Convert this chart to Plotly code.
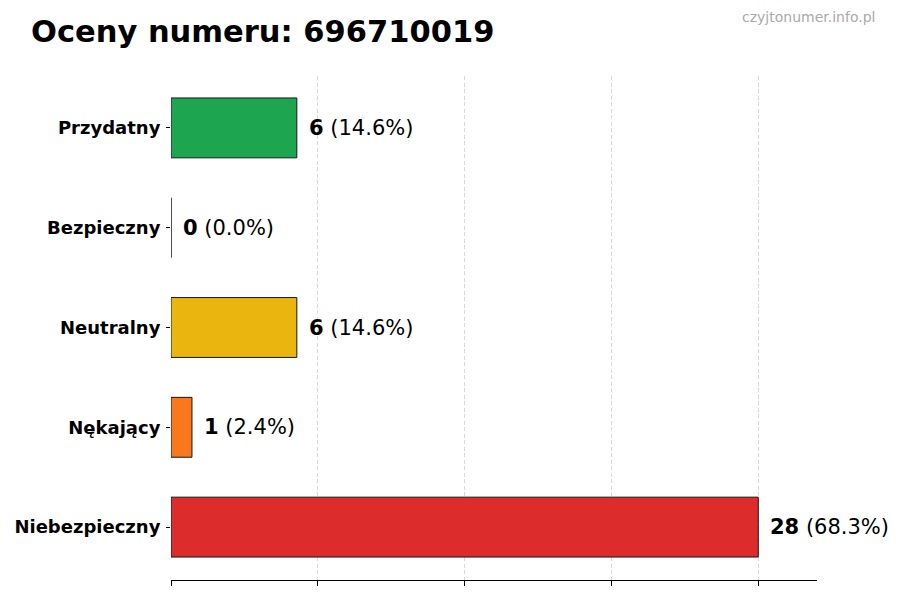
import plotly.graph_objects as go

categories = ["Niebezpieczny", "Nękający", "Neutralny", "Bezpieczny", "Przydatny"]
counts = [28, 1, 6, 0, 6]
colors = ["#dc2626", "#f97316", "#eab308", "#16a34a", "#16a34a"]
title_text = "Oceny numeru: 696710019"
watermark = "czyjtonumer.info.pl"
x_ticks = [0, 7, 14, 21, 28]

total = sum(counts)
pcts = [c / total * 100 for c in counts]

fig = go.Figure()
fig.add_trace(go.Bar(
    x=counts, y=categories, orientation="h", width=0.6,
    marker=dict(color=colors, line=dict(color="#111111", width=1)),
    opacity=0.97, showlegend=False, hoverinfo="skip",
))

for c, cat, p in zip(counts, categories, pcts):
    fig.add_annotation(
        x=c, y=cat, xref="x", yref="y", xanchor="left", yanchor="middle",
        xshift=10, showarrow=False,
        text=f"<b>{c}</b> ({p:.1f}%)",
        font=dict(family="DejaVu Sans", size=21, color="#000000"),
    )

fig.add_annotation(
    xref="paper", yref="paper", x=1 + (877 - 817) / 646, y=1 + (76 - 17) / 504,
    xanchor="right", yanchor="middle", showarrow=False, text=watermark,
    font=dict(family="DejaVu Sans", size=14, color="#aaaaaa"),
)

fig.update_layout(
    width=900, height=600,
    margin=dict(l=171, r=83, t=76, b=20),
    plot_bgcolor="white", paper_bgcolor="white",
    title=dict(text=f"<b>{title_text}</b>", xref="container", yref="container",
               x=31 / 900, xanchor="left", y=1 - 31 / 600, yanchor="middle",
               font=dict(family="DejaVu Sans", size=30.5, color="#000000")),
    xaxis=dict(range=[0, 30.8], tickvals=x_ticks, showticklabels=False,
               ticks="outside", ticklen=5, tickcolor="#000000",
               showgrid=True, gridcolor="#d9d9d9", griddash="4px,2.5px", gridwidth=1,
               showline=True, linecolor="#000000", linewidth=1,
               zeroline=False, fixedrange=True),
    yaxis=dict(range=[-0.53, 4.52], categoryorder="array", categoryarray=categories,
               ticks="outside", ticklen=4, tickcolor="#000000",
               showgrid=False, showline=False, zeroline=False, fixedrange=True,
               tickfont=dict(family="DejaVu Sans", size=18, color="#000000", weight="bold"),
               ticklabelstandoff=2),
)

fig.write_html("out.html", config={"displayModeBar": False},
               post_script="document.body.style.margin='0';")
